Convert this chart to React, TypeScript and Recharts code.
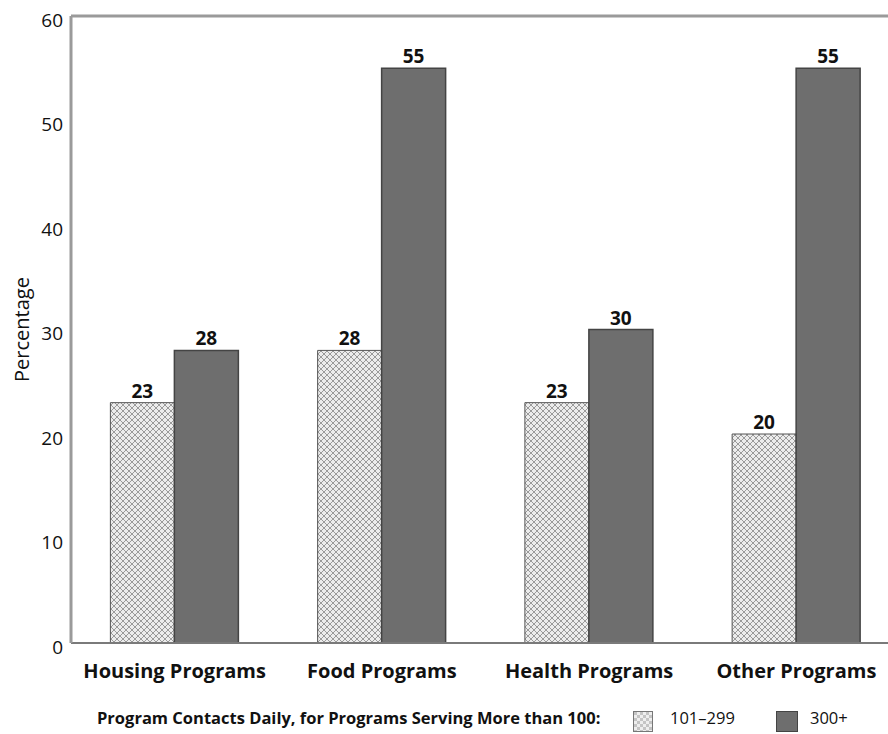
import React from 'react';
import { BarChart, Bar, XAxis, YAxis, LabelList, Legend, ReferenceLine } from 'recharts';

const categories = ['Housing Programs', 'Food Programs', 'Health Programs', 'Other Programs'];
const contacts101to299 = [23, 28, 23, 20];
const contacts300plus = [28, 55, 30, 55];
const yTicks = [0, 10, 20, 30, 40, 50, 60];
const seriesNames = ['101–299', '300+'];
const legendTitle = 'Program Contacts Daily, for Programs Serving More than 100:';
const yLabel = 'Percentage';

const data = categories.map((c, i) => ({
  category: c,
  low: contacts101to299[i],
  high: contacts300plus[i],
}));

const FONT = '"Open Sans", Lato, sans-serif';

const renderLegend = () => (
  <div style={{ position: 'relative', width: 888, height: 31, fontFamily: FONT, color: '#111' }}>
    <span style={{ position: 'absolute', left: 97, top: 5, fontWeight: 700, fontSize: 16.5, lineHeight: '20px', whiteSpace: 'nowrap' }}>
      {legendTitle}
    </span>
    <span style={{ position: 'absolute', left: 633, top: 8, width: 20, height: 21, border: '1px solid #777', boxSizing: 'border-box' }}>
      <svg width={18} height={19} style={{ display: 'block' }}>
        <rect width={18} height={19} fill="url(#legendChecker)" />
      </svg>
    </span>
    <span style={{ position: 'absolute', left: 670, top: 5, fontSize: 16.5, lineHeight: '20px', whiteSpace: 'nowrap' }}>{seriesNames[0]}</span>
    <span style={{ position: 'absolute', left: 776, top: 8, width: 22, height: 21, background: '#6e6e6e', border: '1px solid #444', boxSizing: 'border-box' }} />
    <span style={{ position: 'absolute', left: 810, top: 5, fontSize: 16.5, lineHeight: '20px', whiteSpace: 'nowrap' }}>{seriesNames[1]}</span>
  </div>
);

const YTick = (props: any) => {
  const { x, y, payload } = props;
  return (
    <text x={x} y={y + 4} dy="0.355em" textAnchor="end" fontFamily={FONT} fontSize={19} fill="#111">
      {payload.value}
    </text>
  );
};

export default function App() {
  return (
    <div style={{ position: 'absolute', left: 0, top: 0, width: 888, height: 734, overflow: 'hidden', background: '#fff' }}>
      <svg width={0} height={0} style={{ position: 'absolute' }}>
        <defs>
          <pattern id="crossHatch" width={6} height={6} patternUnits="userSpaceOnUse">
            <rect width={6} height={6} fill="#ececec" />
            <path d="M0,0 L6,6 M6,0 L0,6" stroke="#9a9a9a" strokeWidth={1} />
          </pattern>
          <pattern id="legendChecker" width={6} height={6} patternUnits="userSpaceOnUse">
            <rect width={6} height={6} fill="#eeeeee" />
            <rect width={3} height={3} fill="#c4c4c4" />
            <rect x={3} y={3} width={3} height={3} fill="#c4c4c4" />
          </pattern>
        </defs>
      </svg>
      <BarChart
        width={900}
        height={734}
        data={data}
        margin={{ top: 16, right: 0, bottom: 20, left: 0 }}
        barCategoryGap="19%"
        barGap={0}
      >
        <XAxis
          dataKey="category"
          height={40}
          tickSize={0}
          tickMargin={21}
          axisLine={{ stroke: '#7a7a7a', strokeWidth: 2 }}
          tick={{ fontFamily: FONT, fontSize: 20, fontWeight: 700, fill: '#111' }}
        />
        <YAxis
          width={71}
          domain={[0, 60]}
          ticks={yTicks}
          tickSize={0}
          tickMargin={8}
          axisLine={{ stroke: '#9a9a9a', strokeWidth: 3 }}
          tick={<YTick />}
          label={{ value: yLabel, angle: -90, position: 'insideLeft', offset: 22, style: { fontFamily: FONT, fontSize: 20, fill: '#111', textAnchor: 'middle' } }}
        />
        <ReferenceLine y={60} stroke="#9a9a9a" strokeWidth={3} />
        <Legend verticalAlign="bottom" content={renderLegend} wrapperStyle={{ left: 0, top: 703, width: 888, height: 31 }} />
        <Bar dataKey="low" name={seriesNames[0]} fill="url(#crossHatch)" stroke="#555" strokeWidth={1} isAnimationActive={false}>
          <LabelList dataKey="low" position="top" offset={5} style={{ fontFamily: FONT, fontSize: 19, fontWeight: 700, fill: '#111' }} />
        </Bar>
        <Bar dataKey="high" name={seriesNames[1]} fill="#6e6e6e" stroke="#444" strokeWidth={1.5} isAnimationActive={false}>
          <LabelList dataKey="high" position="top" offset={5} style={{ fontFamily: FONT, fontSize: 19, fontWeight: 700, fill: '#111' }} />
        </Bar>
      </BarChart>
    </div>
  );
}
